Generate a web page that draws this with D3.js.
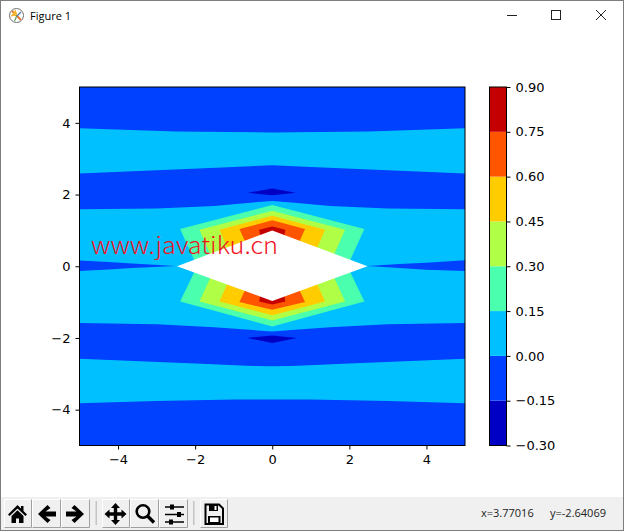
<!DOCTYPE html>
<html>
<head>
<meta charset="utf-8">
<title>Figure 1</title>
<script src="https://cdn.jsdelivr.net/npm/d3@7"></script>
<style>
    html, body { margin: 0; padding: 0; background: #fff; overflow: hidden; }
    svg { display: block; }
</style>
</head>
<body>
<div id="figure"></div>
<script>
//Contour levels and their colours
var levels = [-0.30, -0.15, 0.00, 0.15, 0.30, 0.45, 0.60, 0.75, 0.90];
var levelColors = ["#0000c4", "#0040ff", "#00c0ff", "#4affad", "#b0ff46", "#ffcc00", "#ff5500", "#c40000"];
var levelLabels = ["\u22120.30", "\u22120.15", "0.00", "0.15", "0.30", "0.45", "0.60", "0.75", "0.90"];

var xTicks = [-4, -2, 0, 2, 4];
var yTicks = [-4, -2, 0, 2, 4];

//Contour regions, as [x, y] in data units
var upperBand = [[-5, 3.85], [-2.5, 3.76], [0, 3.73], [2.5, 3.76], [5, 3.85], [5, 2.59], [3, 2.68], [1, 2.77], [0, 2.82], [-1, 2.77], [-3, 2.68], [-5, 2.59]];
var middleBand = [[-5, 1.59], [-3, 1.61], [-1.5, 1.68], [-0.5, 1.78], [0, 1.82], [0.5, 1.78], [1.5, 1.68], [3, 1.61], [5, 1.59], [5, -1.58], [3, -1.62], [1.5, -1.7], [0.5, -1.78], [0, -1.82], [-0.5, -1.78], [-1.5, -1.7], [-3, -1.62], [-5, -1.58]];
var lowerBand = [[-5, -2.58], [-3.9, -2.63], [-2, -2.71], [-0.5, -2.78], [0, -2.79], [0.5, -2.78], [2, -2.71], [3.9, -2.63], [5, -2.58], [5, -3.82], [3, -3.76], [1, -3.72], [0, -3.72], [-1, -3.72], [-3, -3.76], [-5, -3.82]];

var leftSliver = [[-5, 0.16], [-4.25, 0.12], [-3.64, 0.08], [-2.5, 0.01], [-3.64, -0.05], [-4.25, -0.09], [-5, -0.13]];
var rightSliver = [[2.47, 0.01], [3.3, 0.06], [4.0, 0.1], [5, 0.17], [5, -0.13], [4.0, -0.1], [3.3, -0.05]];
var upperDark = [[-0.63, 2.05], [0, 2.17], [0.61, 2.05], [0, 1.98]];
var lowerDark = [[-0.65, -2.0], [0, -1.93], [0.64, -2.0], [0, -2.14]];

var aquaRegion = [[0, 1.71], [2.39, 1.04], [1.95, 0], [2.39, -0.98], [0, -1.68], [-2.39, -0.98], [-1.95, 0], [-2.39, 1.04]];
var limeRegion = [[0, 1.55], [1.89, 1.02], [1.47, 0], [1.89, -0.98], [0, -1.51], [-1.89, -0.98], [-1.47, 0], [-1.89, 1.02]];
var yellowRegion = [[0, 1.41], [1.37, 1.02], [0.96, 0], [1.37, -0.98], [0, -1.37], [-1.37, -0.98], [-0.96, 0], [-1.37, 1.02]];
var orangeRegion = [[0, 1.28], [0.85, 1.04], [0.42, 0], [0.85, -1.0], [0, -1.21], [-0.85, -1.0], [-0.42, 0], [-0.85, 1.04]];
var redRegion = [[0, 1.11], [0.34, 1.02], [0.18, 0], [0.34, -0.98], [0, -1.07], [-0.34, -0.98], [-0.18, 0], [-0.34, 1.02]];
var holeRegion = [[-2.47, 0.0], [0, 1.0], [2.47, 0.0], [0, -0.97]];

//Painted back to front, each with the index of its colour
var regions = [
    { points: upperBand, level: 2 },
    { points: middleBand, level: 2 },
    { points: lowerBand, level: 2 },
    { points: leftSliver, level: 1 },
    { points: rightSliver, level: 1 },
    { points: upperDark, level: 0 },
    { points: lowerDark, level: 0 },
    { points: aquaRegion, level: 3 },
    { points: limeRegion, level: 4 },
    { points: yellowRegion, level: 5 },
    { points: orangeRegion, level: 6 },
    { points: redRegion, level: 7 }
];

var width = 624, height = 531;
var tickFont = "'DejaVu Sans', sans-serif";

var svg = d3.select("#figure")
    .append("svg")
    .attr("width", width)
    .attr("height", height);

svg.append("rect").attr("width", width).attr("height", height).attr("fill", "#fff");

//Scales
var x = d3.scaleLinear().domain([-5, 5]).range([79.5, 465]);
var y = d3.scaleLinear().domain([-5, 5]).range([445.5, 87]);
var barScale = d3.scaleLinear().domain([-0.3, 0.9]).range([445.5, 87]);

var polygon = d3.line()
    .x(function (d) { return x(d[0]); })
    .y(function (d) { return y(d[1]); })
    .curve(d3.curveLinearClosed);

//Axes background is the lowest band that fills most of the plot
var plot = svg.append("g");

plot.append("rect")
    .attr("x", x(-5))
    .attr("y", y(5))
    .attr("width", x(5) - x(-5))
    .attr("height", y(-5) - y(5))
    .attr("fill", levelColors[1]);

plot.selectAll(".region")
    .data(regions)
    .enter()
    .append("path")
    .attr("class", "region")
    .attr("d", function (d) { return polygon(d.points); })
    .attr("fill", function (d) { return levelColors[d.level]; });

//The undefined part of the field stays white
plot.append("path")
    .attr("d", polygon(holeRegion))
    .attr("fill", "#fff");

function styleAxis(g) {
    g.selectAll(".domain").remove();
    g.selectAll(".tick line").attr("stroke", "#000").attr("stroke-width", 1);
    g.selectAll("text").attr("fill", "#000").attr("font-family", tickFont).attr("font-size", 13);
}

svg.append("g")
    .attr("transform", "translate(0," + y(-5) + ")")
    .call(d3.axisBottom(x).tickValues(xTicks).tickSize(4).tickPadding(5)
        .tickFormat(function (d) { return d < 0 ? "\u2212" + Math.abs(d) : d; }))
    .call(styleAxis);

svg.append("g")
    .attr("transform", "translate(" + x(-5) + ",0)")
    .call(d3.axisLeft(y).tickValues(yTicks).tickSize(4).tickPadding(5)
        .tickFormat(function (d) { return d < 0 ? "\u2212" + Math.abs(d) : d; }))
    .call(styleAxis);

svg.append("rect")
    .attr("x", x(-5))
    .attr("y", y(5))
    .attr("width", x(5) - x(-5))
    .attr("height", y(-5) - y(5))
    .attr("fill", "none")
    .attr("stroke", "#000")
    .attr("stroke-width", 1);

//Colorbar
var barLeft = 489.5, barRight = 506.5;

svg.selectAll(".bar-step")
    .data(levelColors)
    .enter()
    .append("rect")
    .attr("class", "bar-step")
    .attr("x", barLeft)
    .attr("width", barRight - barLeft)
    .attr("y", function (d, i) { return barScale(levels[i + 1]); })
    .attr("height", function (d, i) { return barScale(levels[i]) - barScale(levels[i + 1]); })
    .attr("fill", function (d) { return d; });

svg.append("g")
    .attr("transform", "translate(" + barRight + ",0)")
    .call(d3.axisRight(barScale).tickValues(levels).tickSize(4).tickPadding(5)
        .tickFormat(function (d, i) { return levelLabels[i]; }))
    .call(styleAxis);

svg.append("rect")
    .attr("x", barLeft)
    .attr("y", barScale(0.9))
    .attr("width", barRight - barLeft)
    .attr("height", barScale(-0.3) - barScale(0.9))
    .attr("fill", "none")
    .attr("stroke", "#000")
    .attr("stroke-width", 1);

//Watermark over the plot
svg.append("text")
    .attr("x", 91)
    .attr("y", 254)
    .attr("fill", "#f0141e")
    .attr("font-family", "'Noto Sans CJK SC', 'Liberation Sans', sans-serif")
    .attr("font-weight", 300)
    .attr("font-size", 23)
    .attr("textLength", 187)
    .attr("lengthAdjust", "spacingAndGlyphs")
    .text("www.javatiku.cn");

drawTitleBar();
drawToolbar();

//Window border
svg.append("rect")
    .attr("x", 0.5)
    .attr("y", 0.5)
    .attr("width", width - 1)
    .attr("height", height - 1)
    .attr("fill", "none")
    .attr("stroke", "#7d7d7d")
    .attr("stroke-width", 1);

function drawTitleBar() {
    var bar = svg.append("g");

    //Small matplotlib logo
    var logo = bar.append("g").attr("transform", "translate(16.5,15.5)");
    logo.append("circle").attr("r", 7).attr("fill", "#fff").attr("stroke", "#707070").attr("stroke-width", 1);
    logo.append("path").attr("d", "M-4.5,-4.5L4.5,4.5").attr("stroke", "#e8762d").attr("stroke-width", 2);
    logo.append("path").attr("d", "M-1,-6L1,0L-6,1Z").attr("fill", "#f2b632");
    logo.append("path").attr("d", "M4.5,-3.5L0,1").attr("stroke", "#4a78b0").attr("stroke-width", 1.2);
    logo.append("path").attr("d", "M0,1L-2,5.5").attr("stroke", "#5aa05a").attr("stroke-width", 1.2);

    bar.append("text")
        .attr("x", 30)
        .attr("y", 20)
        .attr("fill", "#000")
        .attr("font-family", "'Open Sans', sans-serif")
        .attr("font-size", 11)
        .text("Figure 1");

    bar.append("path")
        .attr("d", "M507,15.5H517")
        .attr("stroke", "#222")
        .attr("fill", "none");
    bar.append("rect")
        .attr("x", 551.5)
        .attr("y", 10.5)
        .attr("width", 9)
        .attr("height", 9)
        .attr("stroke", "#222")
        .attr("fill", "none");
    bar.append("path")
        .attr("d", "M596,10L606,20M606,10L596,20")
        .attr("stroke", "#222")
        .attr("fill", "none");
}

function drawToolbar() {
    var bar = svg.append("g");

    bar.append("rect")
        .attr("x", 0)
        .attr("y", 497)
        .attr("width", width)
        .attr("height", height - 497)
        .attr("fill", "#f0f0f0");

    var buttons = [[4, 28], [32, 29], [61, 29], [102, 28], [130, 29], [159, 29], [200, 28]];

    bar.selectAll(".tool")
        .data(buttons)
        .enter()
        .append("path")
        .attr("class", "tool")
        .attr("d", function (d) {
            return "M" + (d[0] + 0.5) + ",527.5V499.5H" + (d[0] + d[1] - 0.5);
        })
        .attr("fill", "none")
        .attr("stroke", "#fff");

    bar.selectAll(".tool-shade")
        .data(buttons)
        .enter()
        .append("path")
        .attr("class", "tool-shade")
        .attr("d", function (d) {
            return "M" + (d[0] + d[1] - 0.5) + ",499.5V527.5H" + (d[0] + 0.5);
        })
        .attr("fill", "none")
        .attr("stroke", "#a0a0a0");

    bar.selectAll(".separator")
        .data([96, 193.5])
        .enter()
        .append("rect")
        .attr("class", "separator")
        .attr("x", function (d) { return d - 0.5; })
        .attr("y", 501)
        .attr("width", 1.5)
        .attr("height", 24)
        .attr("fill", "#c4c4c4");

    //Home
    bar.append("path")
        .attr("d", "M17.5,505L8,514.5L9.6,516L17.5,508.4L25.4,516L27,514.5L23.5,511V506H21V508.5ZM11.5,516V523H16V518.5H19V523H23.5V516L17.5,510.2Z")
        .attr("fill", "#000");

    //Back and forward
    bar.append("path")
        .attr("d", "M38,514L47.5,505L50.5,508L45.5,511.5H56V516.5H45.5L50.5,520L47.5,523Z")
        .attr("fill", "#000");
    bar.append("path")
        .attr("d", "M84,514L74.5,505L71.5,508L76.5,511.5H66V516.5H76.5L71.5,520L74.5,523Z")
        .attr("fill", "#000");

    //Pan
    bar.append("path")
        .attr("d", "M115.5,503L120,508H117.2V512.3H121.5V509.5L126.5,514L121.5,518.5V515.7H117.2V520H120L115.5,525L111,520H113.8V515.7H109.5V518.5L104.5,514L109.5,509.5V512.3H113.8V508H111Z")
        .attr("fill", "#000");

    //Zoom
    bar.append("circle")
        .attr("cx", 143)
        .attr("cy", 511.5)
        .attr("r", 6.3)
        .attr("fill", "none")
        .attr("stroke", "#000")
        .attr("stroke-width", 2.6);
    bar.append("path")
        .attr("d", "M147.5,516L154,522.5")
        .attr("stroke", "#000")
        .attr("stroke-width", 3.4);

    //Subplots sliders
    bar.append("path")
        .attr("d", "M165,507H184M165,514.5H184M165,522H184")
        .attr("stroke", "#000")
        .attr("stroke-width", 1.6);
    bar.append("path")
        .attr("d", "M170,504.5H174V509.5H170ZM177,512H181V517H177ZM169,519.5H173V524.5H169Z")
        .attr("fill", "#000");

    //Save
    bar.append("path")
        .attr("d", "M205.5,504.5H219L223,508.5V524H205.5Z")
        .attr("fill", "none")
        .attr("stroke", "#000")
        .attr("stroke-width", 2);
    bar.append("path")
        .attr("d", "M209,505H218V511H209ZM208,516H220.5V523H208Z")
        .attr("fill", "#000");
    bar.append("rect").attr("x", 214.5).attr("y", 506).attr("width", 2).attr("height", 4).attr("fill", "#fff");
    bar.append("rect").attr("x", 210).attr("y", 517.5).attr("width", 8.5).attr("height", 4.5).attr("fill", "#fff");

    //Cursor readout
    bar.selectAll(".readout")
        .data([["x=3.77016", 481], ["y=-2.64069", 550]])
        .enter()
        .append("text")
        .attr("class", "readout")
        .attr("x", function (d) { return d[1]; })
        .attr("y", 517)
        .attr("fill", "#222")
        .attr("font-family", "'Open Sans', sans-serif")
        .attr("font-size", 11)
        .text(function (d) { return d[0]; });
}
</script>
</body>
</html>
